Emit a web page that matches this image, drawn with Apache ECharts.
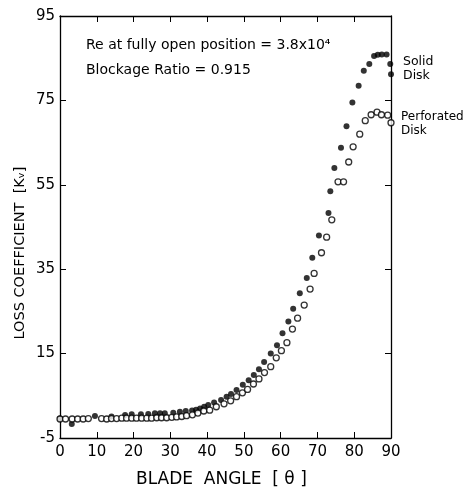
<!DOCTYPE html>
<html>
<head>
<meta charset="utf-8">
<script src="https://cdn.jsdelivr.net/npm/echarts@6/dist/echarts.min.js"></script>
<style>
  html, body { margin: 0; padding: 0; background: #fff; }
  #chart { width: 466px; height: 494px; }
</style>
</head>
<body>
<div id="chart"></div>
<script>
// blade angle (deg) and loss coefficient
const solidAngle = [0, 3.2, 9.5, 14, 17.7, 19.5, 22, 24, 25.8, 27.2, 28.5, 30.8, 32.6, 34.2, 35.9, 37, 38.1, 39.2, 40.3, 41.9, 43.8, 45.3, 46.5, 48, 49.7, 51.3, 52.7, 54.1, 55.5, 57.3, 59, 60.5, 62.1, 63.4, 65.2, 67.1, 68.6, 70.4, 73, 73.5, 74.6, 76.4, 77.9, 79.5, 81.2, 82.6, 84.1, 85.4, 86.4, 87.5, 88.8, 89.8, 90]
const solidLoss = [-0.4, -1.7, 0.2, 0.1, 0.45, 0.6, 0.6, 0.7, 0.85, 0.85, 0.85, 1.0, 1.2, 1.4, 1.5, 1.7, 2.0, 2.4, 2.8, 3.4, 4.0, 4.8, 5.4, 6.4, 7.6, 8.7, 9.9, 11.3, 13.0, 15.0, 17.0, 19.8, 22.6, 25.6, 29.3, 32.9, 37.7, 43.0, 48.3, 53.5, 59.0, 63.8, 68.9, 74.5, 78.5, 82.0, 83.6, 85.5, 85.8, 85.9, 85.9, 83.6, 81.2]

const perfAngle = [0, 1.5, 3.3, 4.8, 6.3, 7.7, 11.3, 12.7, 14.0, 15.4, 16.8, 18.1, 19.5, 20.8, 22.2, 23.6, 24.9, 26.3, 27.6, 29.0, 30.4, 31.7, 33.1, 34.4, 36.0, 37.5, 39.1, 40.7, 42.5, 44.6, 46.4, 48.0, 49.6, 51.0, 52.6, 54.1, 55.6, 57.3, 58.8, 60.2, 61.7, 63.2, 64.6, 66.4, 68.0, 69.1, 71.1, 72.5, 73.9, 75.6, 77.1, 78.5, 79.7, 81.5, 83.0, 84.6, 86.2, 87.4, 89.1, 90]
const perfLoss = [-0.5, -0.5, -0.5, -0.5, -0.5, -0.4, -0.4, -0.5, -0.4, -0.4, -0.3, -0.3, -0.3, -0.3, -0.3, -0.3, -0.3, -0.2, -0.2, -0.2, -0.1, 0.0, 0.1, 0.3, 0.5, 0.9, 1.4, 1.6, 2.4, 3.1, 3.8, 4.8, 5.7, 6.5, 7.8, 9.0, 10.5, 11.9, 14.0, 15.7, 17.6, 20.8, 23.4, 26.5, 30.3, 34.0, 38.9, 42.6, 46.7, 55.7, 55.7, 60.4, 64.0, 67.0, 70.2, 71.6, 72.2, 71.6, 71.5, 69.7]

const xTicks = [0, 10, 20, 30, 40, 50, 60, 70, 80, 90]
const yTicks = [-5, 15, 35, 55, 75, 95]

const FONT = '"DejaVu Sans", sans-serif'

const chart = echarts.init(document.getElementById('chart'), null, { renderer: 'canvas' })

// frame axes: ticks point inward on every side
const frameX = (pos, showLabel) => ({
  type: 'value',
  position: pos,
  min: xTicks[0],
  max: xTicks[xTicks.length - 1],
  interval: 10,
  axisLine: { show: true, onZero: false, lineStyle: { color: '#000', width: 1.3 } },
  axisTick: { show: true, inside: true, length: 6, lineStyle: { color: '#000', width: 1 } },
  axisLabel: { show: showLabel, color: '#000', fontSize: 15, fontFamily: FONT, margin: 7 },
  splitLine: { show: false }
})
const frameY = (pos, showLabel) => ({
  type: 'value',
  position: pos,
  min: yTicks[0],
  max: yTicks[yTicks.length - 1],
  interval: 20,
  axisLine: { show: true, onZero: false, lineStyle: { color: '#000', width: 1.3 } },
  axisTick: { show: true, inside: true, length: 6, lineStyle: { color: '#000', width: 1 } },
  axisLabel: { show: showLabel, color: '#000', fontSize: 15, fontFamily: FONT, margin: 5 },
  splitLine: { show: false }
})

const option = {
  animation: false,
  backgroundColor: '#fff',
  grid: { left: 60, right: 75, top: 16, bottom: 56, containLabel: false },
  xAxis: [frameX('bottom', true), frameX('top', false)],
  yAxis: [frameY('left', true), frameY('right', false)],
  series: [
    {
      name: 'Solid Disk',
      type: 'scatter',
      data: solidAngle.map((a, i) => [a, solidLoss[i]]),
      symbol: 'circle',
      symbolSize: 6,
      itemStyle: { color: '#000' },
      clip: false,
      z: 3
    },
    {
      name: 'Perforated Disk',
      type: 'scatter',
      data: perfAngle.map((a, i) => [a, perfLoss[i]]),
      symbol: 'circle',
      symbolSize: 6,
      itemStyle: { color: '#fff', borderColor: '#000', borderWidth: 1.3 },
      clip: false,
      z: 4
    }
  ],
  graphic: [
    { type: 'text', left: 86, top: 38, style: { text: 'Re at fully open position = 3.8x10⁴', fontSize: 14, fontFamily: FONT, fill: '#000' } },
    { type: 'text', left: 86, top: 63, style: { text: 'Blockage Ratio = 0.915', fontSize: 14, fontFamily: FONT, fill: '#000' } },
    { type: 'text', left: 403, top: 55, style: { text: 'Solid\nDisk', fontSize: 12.5, lineHeight: 14, fontFamily: FONT, fill: '#000' } },
    { type: 'text', left: 401, top: 110, style: { text: 'Perforated\nDisk', fontSize: 12, lineHeight: 14, fontFamily: FONT, fill: '#000' } },
    { type: 'text', left: 136, top: 471, style: { text: 'BLADE  ANGLE  [ θ ]', fontSize: 17, fontFamily: FONT, fill: '#000' } },
    {
      type: 'text', x: 20, y: 253, rotation: Math.PI / 2,
      style: { text: 'LOSS COEFFICIENT  [Kᵥ]', fontSize: 14.5, fontFamily: FONT, fill: '#000', align: 'center', verticalAlign: 'middle' }
    }
  ]
}

chart.setOption(option)
</script>
</body>
</html>
